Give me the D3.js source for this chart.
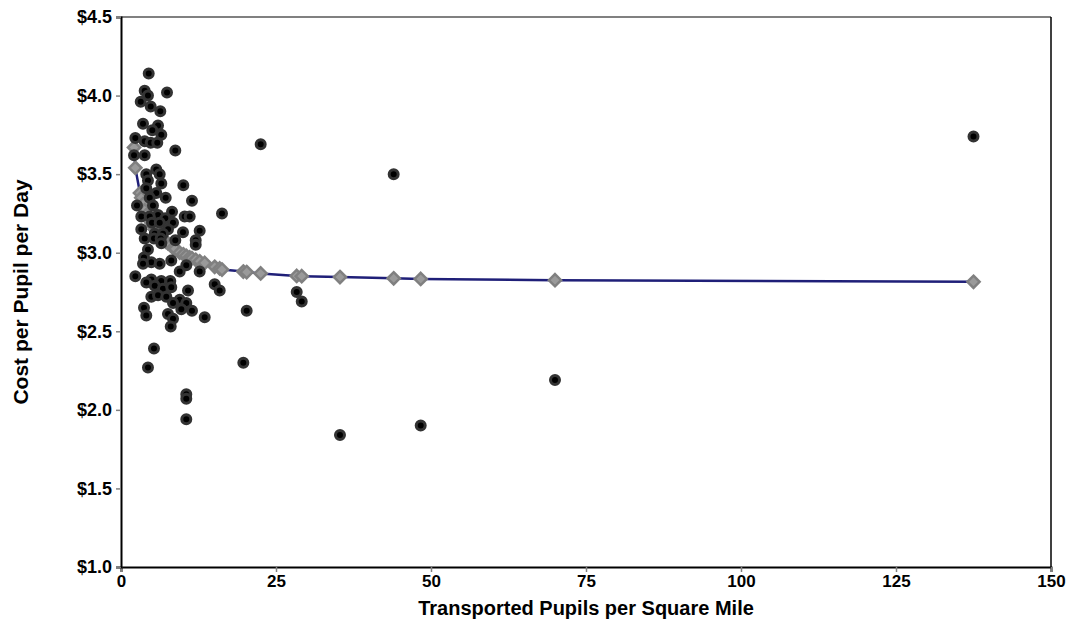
<!DOCTYPE html>
<html>
<head>
<meta charset="utf-8">
<script src="https://cdn.jsdelivr.net/npm/d3@7"></script>
<style>
  body { margin: 0; background: #fff; }
  text { font-family: "Liberation Sans", Arial, sans-serif; font-weight: bold; fill: #000; }
</style>
</head>
<body>
<div id="chart"></div>
<script>

// actual districts
var pupilsPerSqMile = [4.47, 3.82, 7.42, 4.35, 3.18, 4.79, 6.34, 3.55, 5.97, 5.05,
  6.50, 2.31, 3.82, 4.79, 5.85, 8.76, 2.10, 3.82, 5.69, 6.24,
  4.08, 4.35, 6.50, 4.08, 10.05, 5.69, 7.21, 4.63, 11.45, 2.58,
  5.16, 8.23, 10.27, 11.08, 16.29, 5.97, 3.27, 4.63, 7.15, 8.39,
  5.00, 6.24, 3.27, 7.58, 10.00, 12.69, 5.44, 6.77, 3.82, 5.32,
  6.40, 8.76, 12.05, 6.50, 4.35, 12.05, 3.71, 4.89, 6.24, 8.11,
  10.53, 9.47, 3.55, 12.69, 2.31, 4.89, 6.50, 7.95, 4.08, 5.44,
  6.77, 8.11, 10.81, 15.11, 15.92, 4.89, 5.97, 7.31, 9.47, 8.39,
  10.53, 9.73, 11.45, 3.71, 4.08, 7.58, 8.39, 13.50, 8.02, 5.32,
  4.35, 10.53, 10.53, 10.53, 22.53, 43.98, 28.34, 29.15, 20.27, 19.73,
  35.32, 48.34, 70.0, 137.5];

var costPerPupil = [4.14, 4.03, 4.02, 4.00, 3.96, 3.93, 3.90, 3.82, 3.81, 3.78,
  3.75, 3.73, 3.71, 3.70, 3.70, 3.65, 3.62, 3.62, 3.53, 3.50,
  3.50, 3.46, 3.44, 3.41, 3.43, 3.38, 3.35, 3.35, 3.33, 3.30,
  3.30, 3.26, 3.23, 3.23, 3.25, 3.24, 3.23, 3.23, 3.22, 3.19,
  3.19, 3.19, 3.15, 3.15, 3.13, 3.14, 3.12, 3.12, 3.09, 3.09,
  3.09, 3.08, 3.08, 3.06, 3.02, 3.05, 2.97, 2.94, 2.93, 2.95,
  2.92, 2.88, 2.93, 2.88, 2.85, 2.83, 2.82, 2.82, 2.81, 2.79,
  2.77, 2.78, 2.76, 2.80, 2.76, 2.72, 2.73, 2.72, 2.70, 2.68,
  2.68, 2.64, 2.63, 2.65, 2.60, 2.61, 2.58, 2.59, 2.53, 2.39,
  2.27, 2.10, 2.07, 1.94, 3.69, 3.50, 2.75, 2.69, 2.63, 2.30,
  1.84, 1.90, 2.19, 3.74];

// predicted cost curve
var predPupils = [2.10, 2.31, 3.06, 3.27, 3.55, 3.82, 4.08, 4.35, 4.63, 4.89,
  5.16, 5.44, 5.69, 5.97, 6.24, 6.50, 6.77, 7.21, 7.58, 7.95,
  8.39, 8.76, 9.47, 10.05, 10.53, 11.08, 11.45, 12.05, 12.69, 13.50,
  15.11, 15.92, 16.29, 19.73, 20.27, 22.53, 28.34, 29.15, 35.32, 43.98,
  48.34, 70.0, 137.5];

var predCost = [3.67, 3.54, 3.38, 3.35, 3.31, 3.27, 3.24, 3.22, 3.21, 3.19,
  3.17, 3.15, 3.14, 3.12, 3.11, 3.09, 3.085, 3.07, 3.06, 3.05,
  3.03, 3.025, 3.00, 2.99, 2.98, 2.97, 2.965, 2.955, 2.945, 2.935,
  2.91, 2.90, 2.893, 2.88, 2.877, 2.868, 2.852, 2.851, 2.845, 2.837,
  2.833, 2.825, 2.815];

var xTicks = [0, 25, 50, 75, 100, 125, 150];
var yTicks = [1.0, 1.5, 2.0, 2.5, 3.0, 3.5, 4.0, 4.5];

var margin, svg, width, height, xScale, yScale, xAxis, yAxis;

margin = {top: 17, right: 26, bottom: 53, left: 121};
width = 1077 - margin.left - margin.right;
height = 620 - margin.top - margin.bottom;

svg = d3.select("#chart").append("svg")
  .attr("width", 1077)
  .attr("height", 620)
  .append("g")
  .attr("transform", "translate(" + margin.left + "," + margin.top + ")");

xScale = d3.scaleLinear().domain([0, 150]).range([0, width]);
yScale = d3.scaleLinear().domain([1.0, 4.5]).range([height, 0]);

xAxis = d3.axisBottom(xScale).tickValues(xTicks).tickSize(5).tickPadding(3)
  .tickFormat(d3.format("d"));
yAxis = d3.axisLeft(yScale).tickValues(yTicks).tickSize(5).tickPadding(4)
  .tickFormat(function(d){ return "$" + d.toFixed(1); });

// frame: top gray, right black
svg.append("line")
  .attr("x1", 0).attr("x2", width).attr("y1", 0).attr("y2", 0)
  .attr("stroke", "#808080").attr("stroke-width", 2);
svg.append("line")
  .attr("x1", width).attr("x2", width).attr("y1", 0).attr("y2", height)
  .attr("stroke", "#000").attr("stroke-width", 1.5);

var gx = svg.append("g")
  .attr("transform", "translate(0," + height + ")")
  .call(xAxis);
var gy = svg.append("g").call(yAxis);

gx.select(".domain").attr("stroke", "#000").attr("stroke-width", 2);
gy.select(".domain").attr("stroke", "#000").attr("stroke-width", 2);
gx.selectAll(".tick line").attr("stroke", "#808080").attr("stroke-width", 1.5);
gy.selectAll(".tick line").attr("stroke", "#808080").attr("stroke-width", 1.5);
gx.selectAll("text").style("font-size", "17px");
gy.selectAll("text").style("font-size", "18px");

// predicted line + diamonds
var predData = d3.zip(predPupils, predCost);

svg.append("path")
  .datum(predData)
  .attr("fill", "none")
  .attr("stroke", "#1f1f78")
  .attr("stroke-width", 2.5)
  .attr("d", d3.line()
    .x(function(d){ return xScale(d[0]); })
    .y(function(d){ return yScale(d[1]); }));

svg.selectAll(".pred")
  .data(predData)
  .enter().append("path")
  .attr("class", "pred")
  .attr("transform", function(d){ return "translate(" + xScale(d[0]) + "," + yScale(d[1]) + ")"; })
  .attr("d", d3.symbol().type(d3.symbolDiamond2).size(95))
  .attr("fill", "#9a9a9a")
  .attr("stroke", "#808080")
  .attr("stroke-width", 2.5);

// actual dots
svg.selectAll(".dot")
  .data(d3.zip(pupilsPerSqMile, costPerPupil))
  .enter().append("circle")
  .attr("class", "dot")
  .attr("cx", function(d){ return xScale(d[0]); })
  .attr("cy", function(d){ return yScale(d[1]); })
  .attr("r", 4.5)
  .attr("fill", "#000")
  .attr("stroke", "#333")
  .attr("stroke-width", 3);

// axis titles
svg.append("text")
  .attr("x", width / 2)
  .attr("y", height + 48)
  .attr("text-anchor", "middle")
  .style("font-size", "20px")
  .text("Transported Pupils per Square Mile");

svg.append("text")
  .attr("transform", "translate(" + (-93) + "," + (height / 2) + ") rotate(-90)")
  .attr("text-anchor", "middle")
  .style("font-size", "21px")
  .text("Cost per Pupil per Day");

</script>
</body>
</html>
